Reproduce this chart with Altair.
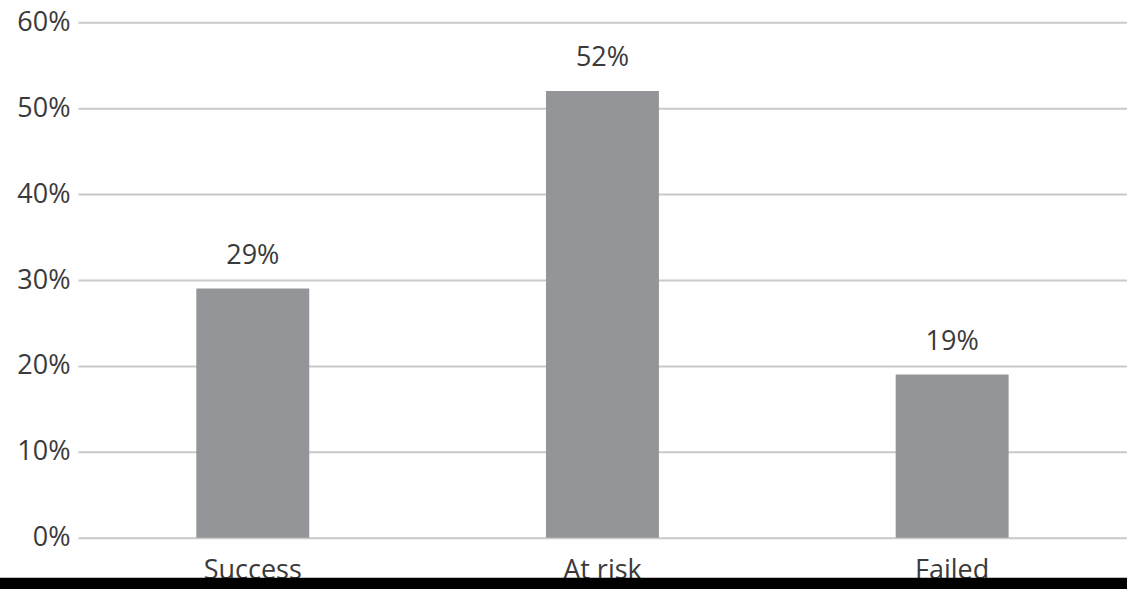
import altair as alt
import pandas as pd

categories = ["Success", "At risk", "Failed"]
values = [0.29, 0.52, 0.19]
y_ticks = [0, 0.1, 0.2, 0.3, 0.4, 0.5, 0.6]

df = pd.DataFrame({"outcome": categories, "share": values})

FONT = "Open Sans"
TEXT = "#3a3a3a"

x_enc = alt.X(
    "outcome:N",
    sort=categories,
    title=None,
    scale=alt.Scale(paddingInner=0.677, paddingOuter=0.3385),
    axis=alt.Axis(
        labelAngle=0, labelFont=FONT, labelFontSize=27, labelColor=TEXT,
        labelPadding=20, ticks=False, domain=False, grid=False,
    ),
)
y_enc = alt.Y(
    "share:Q",
    title=None,
    scale=alt.Scale(domain=[0, 0.6], nice=False),
    axis=alt.Axis(
        values=y_ticks, format=".0%", labelFont=FONT, labelFontSize=27,
        labelColor=TEXT, labelPadding=8, ticks=False, domain=False,
        grid=True, gridColor="#c9c9c9", gridWidth=2,
    ),
)

base = alt.Chart(df).encode(x=x_enc, y=y_enc)
bars = base.mark_bar(color="#939598")
labels = base.mark_text(
    baseline="alphabetic", dy=-25, font=FONT, fontSize=27, color=TEXT
).encode(text=alt.Text("share:Q", format=".0%"))

band = alt.Chart(pd.DataFrame({"band": [0]})).mark_rect(color="black").encode(
    x=alt.value(-80), x2=alt.value(1060), y=alt.value(556), y2=alt.value(580)
)

chart = alt.layer(bars, labels, band).properties(
    width=1050, height=516,
    background="white",
    autosize=alt.AutoSizeParams(type="none"),
    padding={"left": 78, "top": 22, "right": 0, "bottom": 51},
).configure_view(strokeWidth=0, stroke="transparent")

chart.save("out.html", embed_options={"renderer": "svg", "actions": False})
